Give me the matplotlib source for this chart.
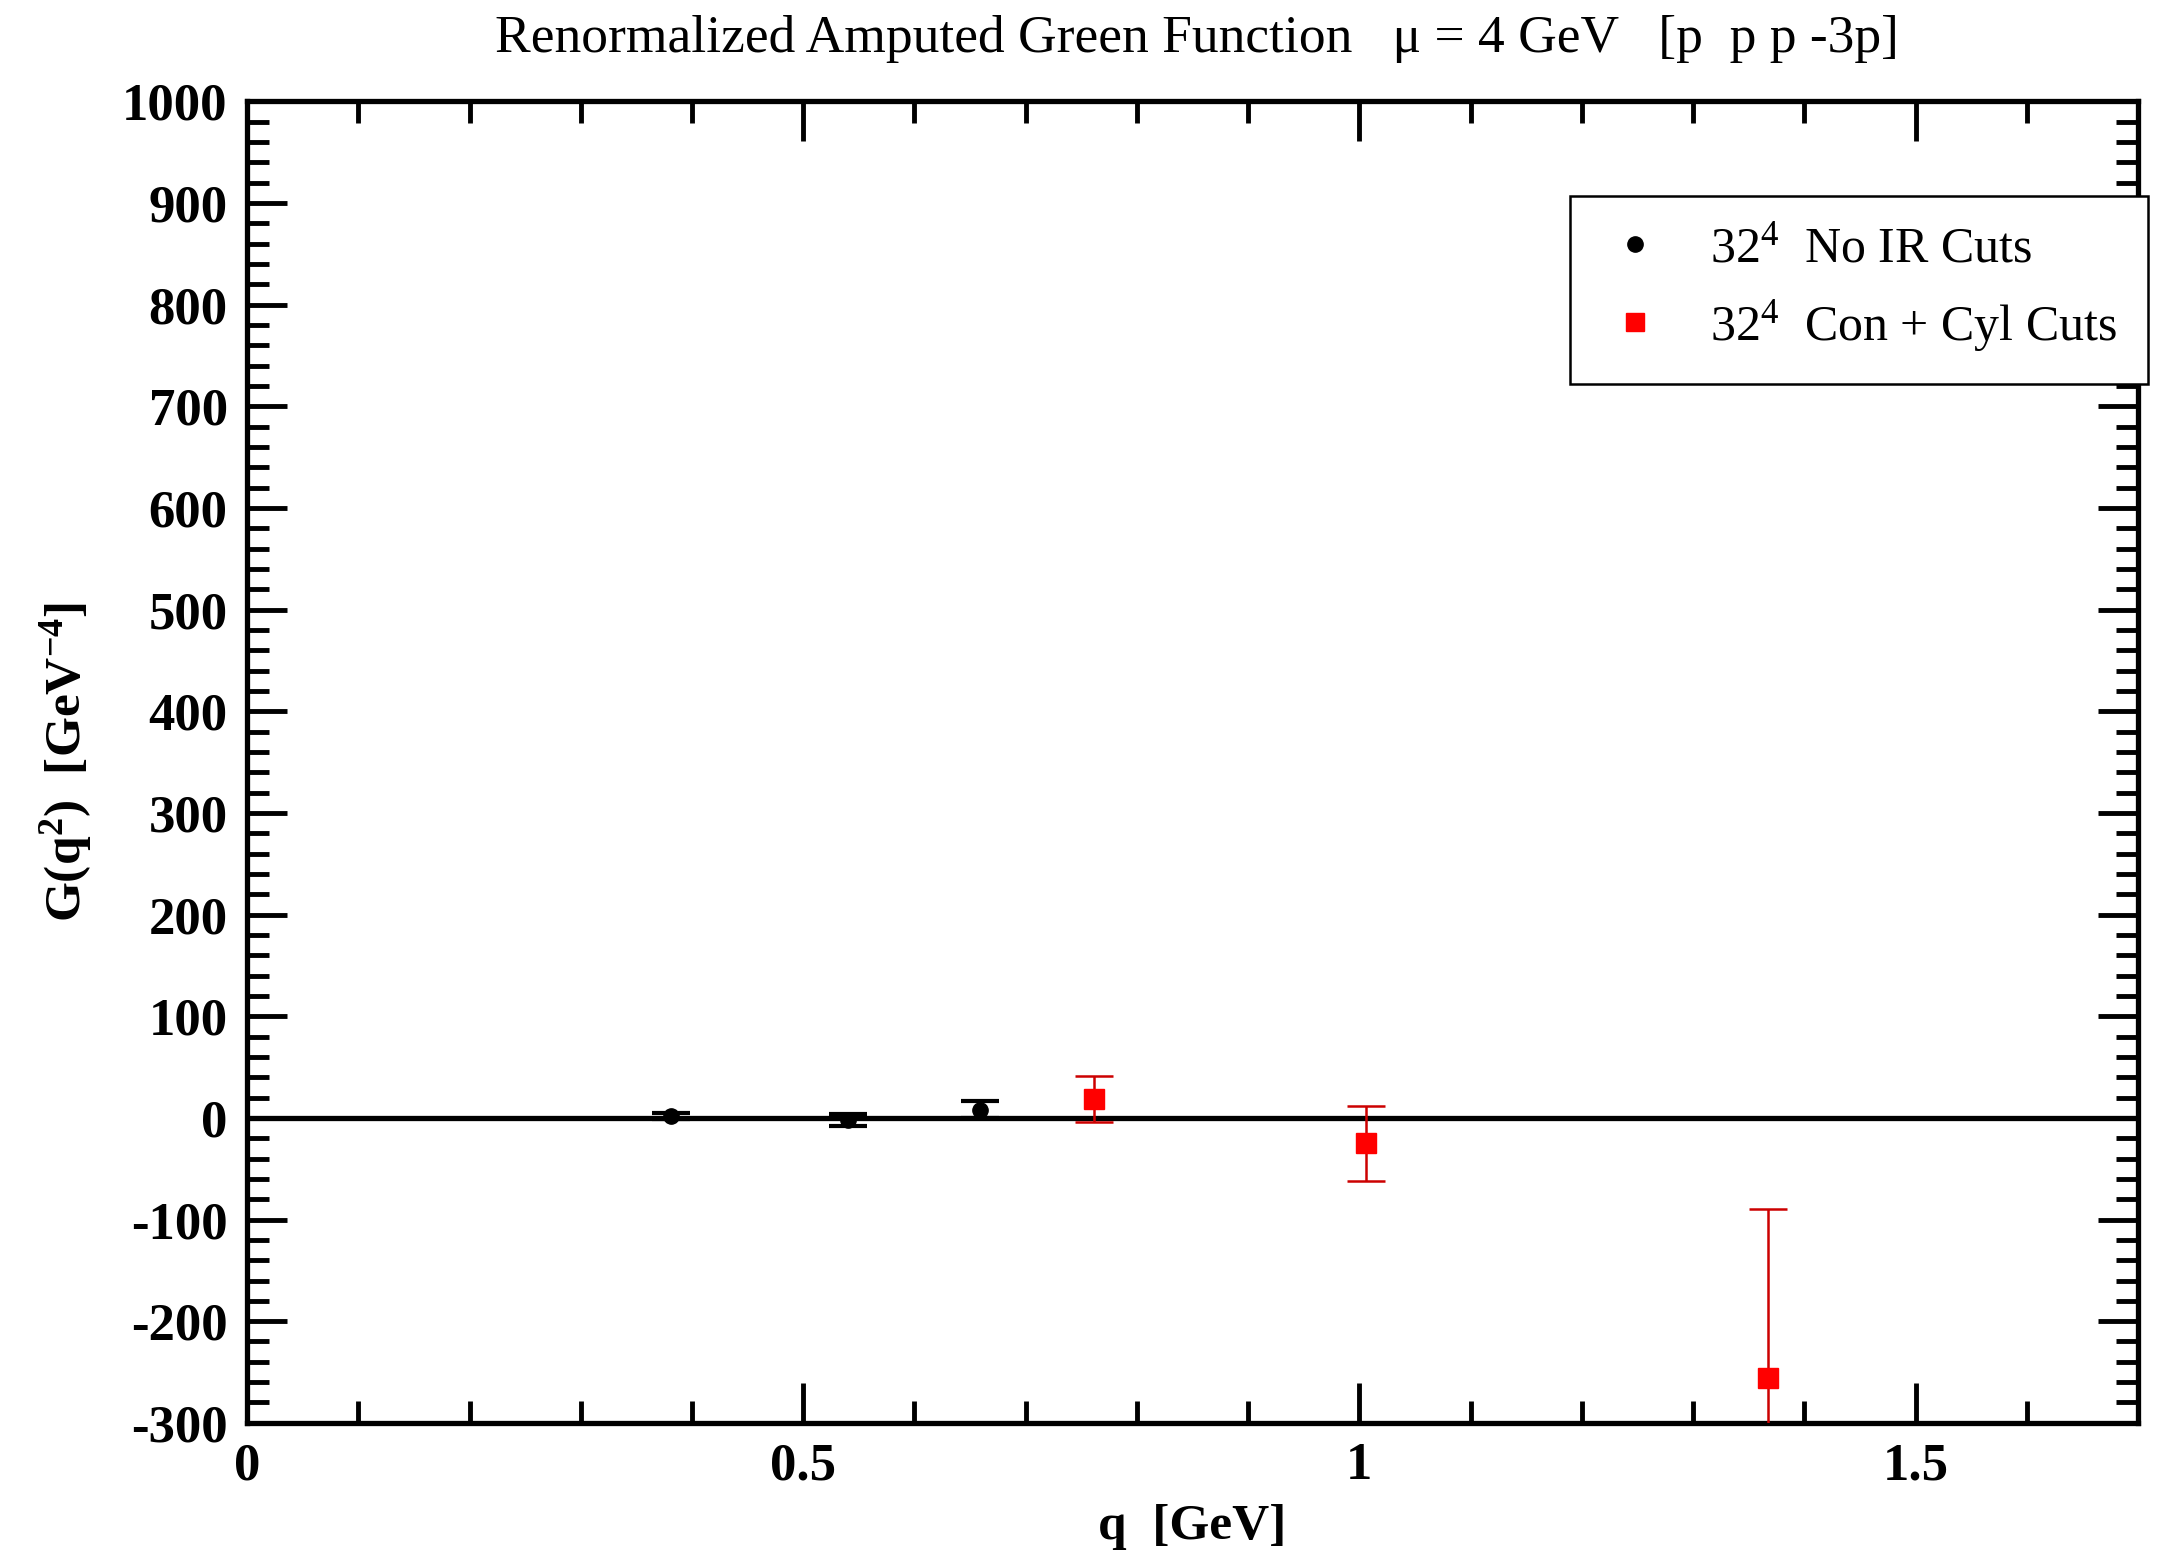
import matplotlib
matplotlib.use("Agg")
import matplotlib.pyplot as plt
from matplotlib.ticker import MultipleLocator

plt.rcParams['font.family'] = ['Liberation Serif', 'DejaVu Serif']
plt.rcParams['mathtext.fontset'] = 'custom'
plt.rcParams['mathtext.rm'] = 'Liberation Serif'
plt.rcParams['mathtext.bf'] = 'Liberation Serif:bold'
plt.rcParams['mathtext.it'] = 'Liberation Serif:italic'
plt.rcParams['axes.unicode_minus'] = False

# 32^4 lattice, no IR cuts
q_nocut = [0.381, 0.540, 0.659]
g_nocut = [2.0, -2.0, 8.0]
e_nocut = [3.0, 6.0, 8.5]

# 32^4 lattice, cone + cylinder cuts
q_cut = [0.761, 1.006, 1.367]
g_cut = [18.5, -25.0, -256.0]
e_cut = [22.5, 37.0, 166.0]

xticks = [0, 0.5, 1, 1.5]
xticklabels = ['0', '0.5', '1', '1.5']
yticks = list(range(-300, 1001, 100))

fig = plt.figure(figsize=(21.77, 15.56), dpi=100)
ax = fig.add_axes([0.1135, 0.0856, 0.8686, 0.8492])

ax.axhline(0, color='black', lw=3.8, zorder=1)

ax.errorbar(q_nocut, g_nocut, yerr=e_nocut, fmt='o', color='black',
            ms=11, elinewidth=3.0, capsize=14, capthick=3.0, zorder=3)
ax.errorbar(q_cut, g_cut, yerr=e_cut, fmt='s', color='#ff0000', mec='#ff0000',
            ecolor='#cc0000', ms=15, elinewidth=1.8, capsize=14, capthick=1.8,
            zorder=3)

# marker-only handles for the legend
h1, = ax.plot([], [], 'o', color='black', ms=11)
h2, = ax.plot([], [], 's', color='#ff0000', ms=13)

ax.set_xlim(0, 1.7)
ax.set_ylim(-300, 1000)
ax.set_xticks(xticks)
ax.set_xticklabels(xticklabels)
ax.set_yticks(yticks)
ax.xaxis.set_minor_locator(MultipleLocator(0.1))
ax.yaxis.set_minor_locator(MultipleLocator(20))

ax.tick_params(which='both', direction='in', top=True, right=True, width=3.5,
               labelsize=38, pad=14)
ax.tick_params(which='major', length=29)
ax.tick_params(which='minor', length=16)
for lab in ax.get_xticklabels() + ax.get_yticklabels():
    lab.set_fontweight('bold')
for sp in ax.spines.values():
    sp.set_linewidth(3.8)

ax.set_xlabel('q  [GeV]', fontsize=37, fontweight='bold', labelpad=10)
ax.set_ylabel(r'G(q$^{\mathbf{2}}$)  [GeV$^{\mathbf{-4}}$]', fontsize=37,
              fontweight='bold', labelpad=20)
fig.text(0.55, 0.975, 'Renormalized Amputed Green Function   μ = 4 GeV   [p  p p -3p]',
         ha='center', va='center', fontsize=38.5)

leg = ax.legend([h1, h2], [r'32$^{4}$  No IR Cuts', r'32$^{4}$  Con + Cyl Cuts'],
                loc='upper right', bbox_to_anchor=(0.9865, 0.874),
                bbox_transform=fig.transFigure, fontsize=36, frameon=True,
                fancybox=False, edgecolor='black', framealpha=1.0,
                handlelength=1.4, handletextpad=0.8, borderpad=0.6,
                labelspacing=0.5, borderaxespad=0)
leg.get_frame().set_linewidth(1.8)
leg.set_zorder(10)

fig.savefig('out.png', dpi=100)
